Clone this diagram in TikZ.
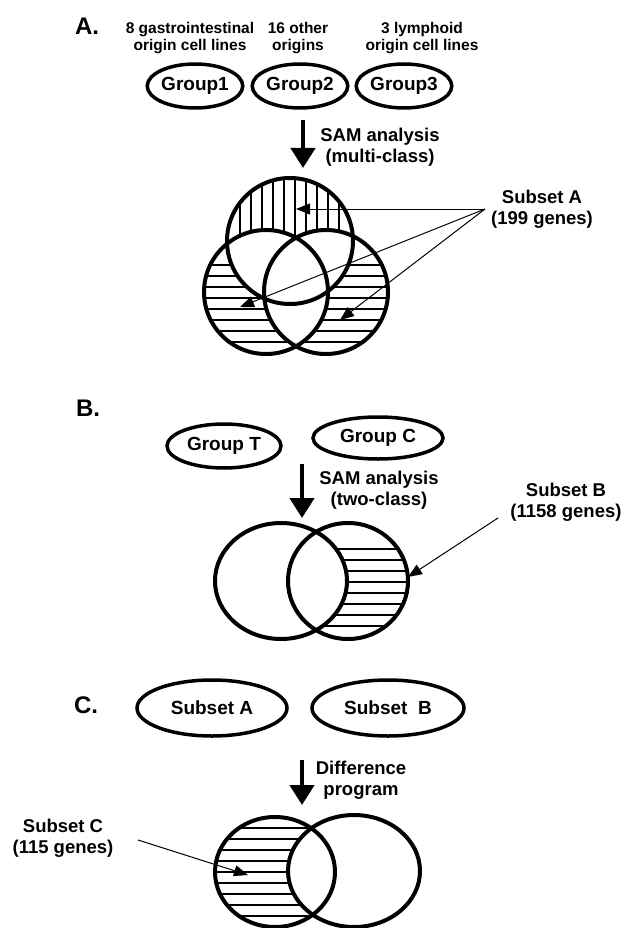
\documentclass[tikz,border=0pt]{standalone}
\usepackage{fontspec}
\setmainfont{Liberation Sans}
\usetikzlibrary{shapes.geometric,arrows.meta}
\begin{document}
\begin{tikzpicture}[x=1pt,y=-1pt,
  lbl/.style={font=\fontsize{15.5}{17}\selectfont\bfseries, align=center, inner sep=0},
  txt/.style={font=\fontsize{18.5}{21}\selectfont\bfseries, align=center, inner sep=0},
  head/.style={font=\fontsize{24}{26}\selectfont\bfseries, inner sep=0},
  grp/.style={ellipse, draw, line width=3.5pt, inner sep=0, font=\fontsize{19}{21}\selectfont\bfseries},
  bigarrow/.style={line width=4.5pt, -{Triangle[length=20pt,width=24pt]}},
  thinarrow/.style={line width=1pt, -{Triangle[length=14pt,width=11pt]}},
  venn/.style={line width=4pt},
  hatch/.style={line width=1.3pt},
]
\useasboundingbox (0,0) rectangle (630,928);

% ---------------- A ----------------
\node[head] (hA) at (87,26) {A.};
\node[lbl] (l1) at (190,38) {8 gastrointestinal\\origin cell lines};
\node[lbl] (l2) at (298,38) {16 other\\origins};
\node[lbl] (l3) at (422,38) {3 lymphoid\\origin cell lines};
\node[grp, minimum width=84pt, minimum height=44pt] (g1) at (195,86) {Group1};
\node[grp, minimum width=84pt, minimum height=44pt] (g2) at (300,86) {Group2};
\node[grp, minimum width=84pt, minimum height=44pt] (g3) at (404,86) {Group3};

\coordinate (aTop) at (303,120);
\coordinate (aTip) at (303,168);
\draw[bigarrow] (aTop) -- (aTip);
\node[txt] (samA) at (380,147) {SAM analysis\\(multi-class)};

% hatching top circle
\begin{scope}
  \clip (290,241) circle (63);
  \begin{scope}[even odd rule]
    \clip (0,0) rectangle (630,928) (266,292) circle (62);
    \clip (0,0) rectangle (630,928) (326,292) circle (62);
    \foreach \x in {240,251,...,341} \draw[hatch] (\x,170) -- (\x,310);
  \end{scope}
\end{scope}
% hatching lower left
\begin{scope}
  \clip (266,292) circle (62);
  \begin{scope}[even odd rule]
    \clip (0,0) rectangle (630,928) (290,241) circle (63);
    \clip (0,0) rectangle (630,928) (326,292) circle (62);
    \foreach \y in {265,276,...,343} \draw[hatch] (200,\y) -- (330,\y);
  \end{scope}
\end{scope}
% hatching lower right
\begin{scope}
  \clip (326,292) circle (62);
  \begin{scope}[even odd rule]
    \clip (0,0) rectangle (630,928) (290,241) circle (63);
    \clip (0,0) rectangle (630,928) (266,292) circle (62);
    \foreach \y in {265,276,...,343} \draw[hatch] (260,\y) -- (395,\y);
  \end{scope}
\end{scope}
\draw[venn] (290,241) circle (63);
\draw[venn] (266,292) circle (62);
\draw[venn] (326,292) circle (62);

\node[txt] (subA) at (542,209) {Subset A\\(199 genes)};
\coordinate (oA) at (485,209);
\coordinate (tA1) at (296,209);
\coordinate (tA2) at (240,307);
\coordinate (tA3) at (340,320);
\draw[thinarrow] (oA) -- (tA1);
\draw[thinarrow] (oA) -- (tA2);
\draw[thinarrow] (oA) -- (tA3);

% ---------------- B ----------------
\node[head] (hB) at (88,408) {B.};
\node[grp, minimum width=114pt, minimum height=44pt] (gT) at (224,446) {Group T};
\node[grp, minimum width=130pt, minimum height=42pt] (gC) at (378,438) {Group C};
\coordinate (bTop) at (302,464);
\coordinate (bTip) at (302,518);
\draw[bigarrow] (bTop) -- (bTip);
\node[txt] (samB) at (379,490) {SAM analysis\\(two-class)};

\begin{scope}
  \clip (348,581) ellipse [x radius=60, y radius=58];
  \begin{scope}[even odd rule]
    \clip (0,0) rectangle (630,928) (281,581) ellipse [x radius=66, y radius=58];
    \foreach \y in {549,560,...,628} \draw[hatch] (280,\y) -- (420,\y);
  \end{scope}
\end{scope}
\draw[venn] (281,581) ellipse [x radius=66, y radius=58];
\draw[venn] (348,581) ellipse [x radius=60, y radius=58];

\node[txt] (subB) at (566,502) {Subset B\\(1158 genes)};
\coordinate (oB) at (498,518);
\coordinate (tB) at (408,577);
\draw[thinarrow] (oB) -- (tB);

% ---------------- C ----------------
\node[head] (hC) at (86,705) {C.};
\node[grp, minimum width=150pt, minimum height=56pt] (sA) at (212,708) {Subset A};
\node[grp, minimum width=152pt, minimum height=56pt] (sB) at (388,708) {Subset\ \ B};
\coordinate (cTop) at (302,760);
\coordinate (cTip) at (302,805);
\draw[bigarrow] (cTop) -- (cTip);
\node[txt] (diff) at (361,780) {Difference\\program};

\begin{scope}
  \clip (275,872) ellipse [x radius=60, y radius=55];
  \begin{scope}[even odd rule]
    \clip (0,0) rectangle (630,928) (354,871) ellipse [x radius=66, y radius=56];
    \foreach \y in {828,839,...,918} \draw[hatch] (210,\y) -- (340,\y);
  \end{scope}
\end{scope}
\draw[venn] (275,872) ellipse [x radius=60, y radius=55];
\draw[venn] (354,871) ellipse [x radius=66, y radius=56];

\node[txt] (subC) at (63,838) {Subset C\\(115 genes)};
\coordinate (oC) at (138,840);
\coordinate (tC) at (248,875);
\draw[thinarrow] (oC) -- (tC);
\end{tikzpicture}
\end{document}
